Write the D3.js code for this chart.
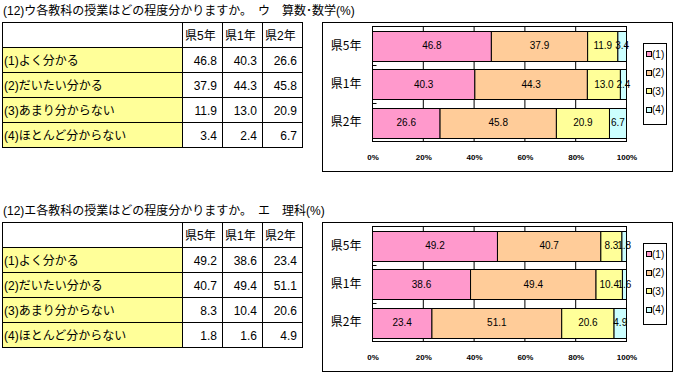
<!DOCTYPE html>
<html>
<head>
<meta charset="utf-8">
<script src="https://cdn.jsdelivr.net/npm/d3@7"></script>
<style>
  body { margin: 0; background: #fff; }
  svg { display: block; font-family: "Liberation Sans", "Noto Sans CJK JP", sans-serif; }
</style>
</head>
<body>
<script>
// data
const grades = ["県5年", "県1年", "県2年"];
const answers = ["(1)よく分かる", "(2)だいたい分かる", "(3)あまり分からない", "(4)ほとんど分からない"];
const legendLabels = ["(1)", "(2)", "(3)", "(4)"];
const colors = ["#FF99CC", "#FFCC99", "#FFFF99", "#CCFFFF"];
const pctTicks = [0, 20, 40, 60, 80, 100];

// one row per answer, one value per grade
const mathValues = [
  [46.8, 40.3, 26.6],
  [37.9, 44.3, 45.8],
  [11.9, 13.0, 20.9],
  [3.4, 2.4, 6.7]
];
const scienceValues = [
  [49.2, 38.6, 23.4],
  [40.7, 49.4, 51.1],
  [8.3, 10.4, 20.6],
  [1.8, 1.6, 4.9]
];

const titles = [
  "(12)ウ各教科の授業はどの程度分かりますか。　ウ　算数･数学(%)",
  "(12)エ各教科の授業はどの程度分かりますか。　エ　理科(%)"
];

const W = 676, H = 374;
const svg = d3.select("body").append("svg")
  .attr("width", W).attr("height", H);

const fmt = d3.format(".1f");

function drawPanel(g, title, values) {
  // title
  g.append("text")
    .attr("x", 3).attr("y", 15)
    .attr("font-size", 12)
    .text(title);

  // ---- table ----
  const colX = d3.scaleOrdinal().domain(["label", ...grades]).range([2.5, 182.5, 222.5, 262.5]);
  const colW = { label: 180, "県5年": 40, "県1年": 40, "県2年": 40 };
  const rowY = d3.scaleBand().domain(["head", ...answers]).range([22.5, 147.5]);

  const tbl = g.append("g");
  // header row
  tbl.append("rect").attr("x", colX("label")).attr("y", rowY("head"))
    .attr("width", colW.label).attr("height", rowY.bandwidth())
    .attr("fill", "#fff").attr("stroke", "#000");
  grades.forEach(gr => {
    tbl.append("rect").attr("x", colX(gr)).attr("y", rowY("head"))
      .attr("width", colW[gr]).attr("height", rowY.bandwidth())
      .attr("fill", "#fff").attr("stroke", "#000");
    tbl.append("text").attr("x", colX(gr) + 2.5).attr("y", rowY("head") + rowY.bandwidth() / 2 + 5)
      .attr("font-size", 12).text(gr);
  });
  answers.forEach((a, i) => {
    tbl.append("rect").attr("x", colX("label")).attr("y", rowY(a))
      .attr("width", colW.label).attr("height", rowY.bandwidth())
      .attr("fill", "#FFFF99").attr("stroke", "#000");
    tbl.append("text").attr("x", colX("label") + 1.5).attr("y", rowY(a) + rowY.bandwidth() / 2 + 5)
      .attr("font-size", 12).text(a);
    grades.forEach((gr, j) => {
      tbl.append("rect").attr("x", colX(gr)).attr("y", rowY(a))
        .attr("width", colW[gr]).attr("height", rowY.bandwidth())
        .attr("fill", "#fff").attr("stroke", "#000");
      tbl.append("text").attr("x", colX(gr) + colW[gr] - 5.5).attr("y", rowY(a) + rowY.bandwidth() / 2 + 5)
        .attr("text-anchor", "end").attr("font-size", 12).text(fmt(values[i][j]));
    });
  });

  // ---- chart ----
  g.append("rect").attr("x", 322.5).attr("y", 22.5).attr("width", 350).attr("height", 149)
    .attr("fill", "#fff").attr("stroke", "#000");

  const x = d3.scaleLinear().domain([0, 100]).range([372.5, 626.5]);
  const y = d3.scaleBand().domain(grades).range([26.5, 141.5])
    .paddingInner(0.23).paddingOuter(0.115);
  const step = y.step();

  // vertical gridlines
  g.append("g").selectAll("line").data(pctTicks.slice(1, -1)).join("line")
    .attr("x1", d => x(d)).attr("x2", d => x(d))
    .attr("y1", 26.5).attr("y2", 141.5)
    .attr("stroke", "#000");

  // category boundary ticks
  g.append("g").selectAll("line").data(grades.slice(1)).join("line")
    .attr("x1", x(0)).attr("x2", x(0) + 4)
    .attr("y1", d => Math.round(y(d) - step * 0.23 / 2) + 0.5)
    .attr("y2", d => Math.round(y(d) - step * 0.23 / 2) + 0.5)
    .attr("stroke", "#000");

  // stacked bars
  const rows = grades.map((gr, j) => {
    const o = { grade: gr };
    answers.forEach((a, i) => o[a] = values[i][j]);
    return o;
  });
  const series = d3.stack().keys(answers)(rows);

  const sg = g.append("g").selectAll("g").data(series).join("g")
    .attr("fill", (d, i) => colors[i]);
  sg.selectAll("rect").data(d => d).join("rect")
    .attr("x", d => x(d[0]))
    .attr("y", d => Math.round(y(d.data.grade)) + 0.5)
    .attr("width", d => x(d[1]) - x(d[0]))
    .attr("height", Math.round(y.bandwidth()))
    .attr("stroke", "#000");

  // value labels
  g.append("g").selectAll("g").data(series).join("g")
    .selectAll("text").data(d => d.map(v => ({ v, val: v[1] - v[0] }))).join("text")
    .attr("x", d => x((d.v[0] + d.v[1]) / 2))
    .attr("y", d => y(d.v.data.grade) + y.bandwidth() / 2 + 3.5)
    .attr("text-anchor", "middle")
    .attr("font-family", "\"Liberation Sans Narrow\", \"Liberation Sans\", sans-serif")
    .attr("font-size", 10)
    .text(d => fmt(d.val));

  // plot border
  g.append("rect").attr("x", 372.5).attr("y", 26.5).attr("width", 254).attr("height", 115)
    .attr("fill", "none").attr("stroke", "#000");

  // category axis
  const ya = g.append("g").attr("transform", `translate(${x(0) - 8},0)`)
    .call(d3.axisLeft(y).tickSize(0));
  ya.select(".domain").remove();
  ya.selectAll("text").attr("font-size", 12).attr("fill", "#000")
    .attr("font-family", "\"Noto Sans CJK JP\", sans-serif");

  // value axis
  const xa = g.append("g").attr("transform", `translate(0,${141.5 + 10})`)
    .call(d3.axisBottom(x).tickValues(pctTicks).tickSize(0).tickFormat(d => d + "%"));
  xa.select(".domain").remove();
  xa.selectAll("text").attr("font-size", 8).attr("font-weight", "bold").attr("fill", "#000");

  // legend
  const lg = g.append("g");
  lg.append("rect").attr("x", 643.5).attr("y", 43.5).attr("width", 23).attr("height", 81)
    .attr("fill", "#fff").attr("stroke", "#000");
  const ly = d3.scalePoint().domain(legendLabels).range([54, 109.5]);
  legendLabels.forEach((l, i) => {
    lg.append("rect").attr("x", 646.5).attr("y", Math.round(ly(l) - 3) + 0.5)
      .attr("width", 5).attr("height", 5)
      .attr("fill", colors[i]).attr("stroke", "#000");
    lg.append("text").attr("x", 652).attr("y", ly(l) + 3.5)
      .attr("font-size", 10).text(l);
  });
}

const subjects = [mathValues, scienceValues];
subjects.forEach((vals, k) => {
  const g = svg.append("g").attr("transform", `translate(0,${k * 200})`);
  drawPanel(g, titles[k], vals);
});
</script>
</body>
</html>
